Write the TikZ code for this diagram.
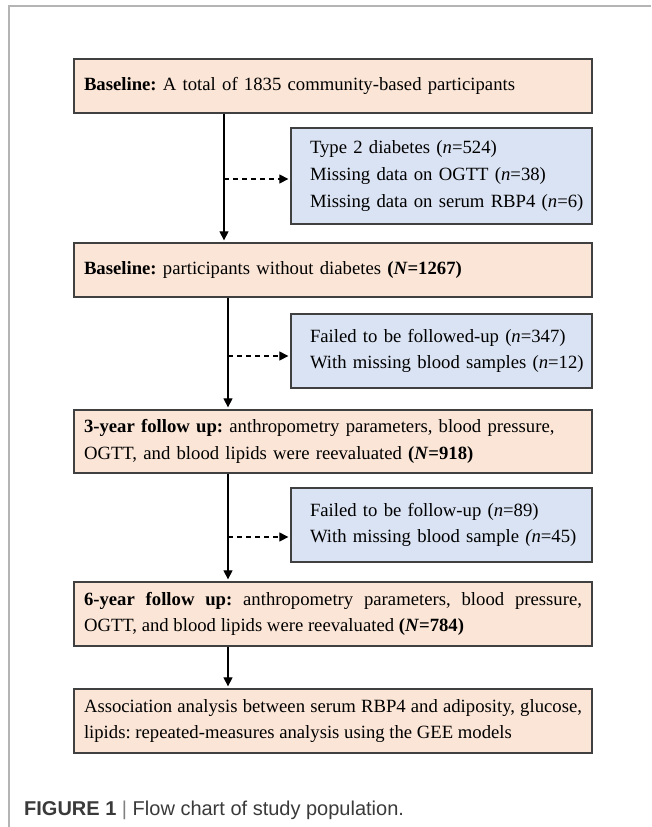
\documentclass[tikz,border=0pt]{standalone}
\usepackage{fontspec}
\setmainfont{Liberation Serif}
\setsansfont{Liberation Sans}
\usepackage{xcolor}
\usetikzlibrary{positioning, arrows.meta, calc}
\frenchspacing

\definecolor{peach}{HTML}{FBE5D6}
\definecolor{paleblue}{HTML}{DAE3F3}
\definecolor{edgegray}{HTML}{404040}
\definecolor{framegray}{HTML}{B4B4B4}
\definecolor{capgray}{HTML}{3A3A3A}

\begin{document}
\begin{tikzpicture}[x=1pt, y=-1pt,
    stage/.style={draw=edgegray, line width=1.3pt, fill=peach, text width=498pt,
        inner xsep=10pt, inner ysep=0pt, align=left,
        font=\fontsize{18.7}{26.6}\selectfont},
    excl/.style={draw=edgegray, line width=1.3pt, fill=paleblue, text width=301pt,
        inner xsep=0pt, inner ysep=0pt, align=left,
        execute at begin node={\leftskip=19pt},
        font=\fontsize{18.7}{26.6}\selectfont},
    flow/.style={-{Triangle[length=9pt,width=9pt]}, line width=1.2pt, shorten >=2pt},
    drop/.style={flow, dash pattern=on 5pt off 4pt}]
    \useasboundingbox (0,0) rectangle (651,827);

    % Frame
    \draw[framegray, line width=1.3pt] (9,827) -- (9,6) -- (651,6);

    % Main stages
    \node[stage, minimum height=54pt] (base) at (333,86)
        {\textbf{Baseline:} A total of 1835 community-based participants};
    \node[stage, minimum height=54pt] (nodiab) at (333,270)
        {\textbf{Baseline:} participants without diabetes \textbf{(\textit{N}=1267)}};
    \node[stage, minimum height=63pt] (fu3) at (333,441.5)
        {\textbf{3-year follow up:} anthropometry parameters, blood pressure,\\
         OGTT, and blood lipids were reevaluated \textbf{(\textit{N}=918)}};
    \node[stage, minimum height=64pt, align=justify] (fu6) at (333,614)
        {\textbf{6-year follow up:} anthropometry parameters, blood pressure,\linebreak
         OGTT, and blood lipids were reevaluated \textbf{(\textit{N}=784)}};
    \node[stage, minimum height=64pt, align=justify] (gee) at (333,721)
        {Association analysis between serum RBP4 and adiposity, glucose,\linebreak
         lipids: repeated-measures analysis using the GEE models};

    % Exclusions
    \node[excl, minimum height=96pt] (excl1) at (441.5,176)
        {Type 2 diabetes (\textit{n}=524)\\
         Missing data on OGTT (\textit{n}=38)\\
         Missing data on serum RBP4 (\textit{n}=6)};
    \node[excl, minimum height=74pt] (excl2) at (441.5,351)
        {Failed to be followed-up (\textit{n}=347)\\
         With missing blood samples (\textit{n}=12)};
    \node[excl, minimum height=74pt] (excl3) at (441.5,525)
        {Failed to be follow-up (\textit{n}=89)\\
         With missing blood sample \textit{(n}=45)};

    % Trunk lines
    \coordinate (t1) at (224,0);
    \coordinate (t2) at (228,0);
    \coordinate (d1) at ($(excl1.west)+(0,3)$);
    \coordinate (d2) at ($(excl2.west)+(0,5)$);
    \coordinate (d3) at ($(excl3.west)+(0,12)$);

    \draw[flow] (base.south -| t1) -- (nodiab.north -| t1);
    \draw[flow] (nodiab.south -| t2) -- (fu3.north -| t2);
    \draw[flow] (fu3.south -| t2) -- (fu6.north -| t2);
    \draw[flow] (fu6.south -| t2) -- (gee.north -| t2);

    \draw[drop] (d1 -| t1) -- (d1);
    \draw[drop] (d2 -| t2) -- (d2);
    \draw[drop] (d3 -| t2) -- (d3);

    % Caption
    \node[anchor=base west, inner sep=0pt, text=capgray,
        font=\sffamily\fontsize{20}{24}\selectfont] (cap) at (24,815)
        {\textbf{FIGURE 1} \textcolor{gray}{|} Flow chart of study population.};
\end{tikzpicture}
\end{document}
